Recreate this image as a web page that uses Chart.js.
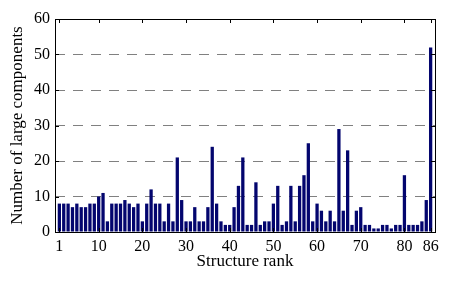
<!DOCTYPE html>
<html>
<head>
<meta charset="utf-8">
<script src="https://cdn.jsdelivr.net/npm/chart.js@4.4.1/dist/chart.umd.min.js"></script>
<style>
  html, body { margin: 0; padding: 0; background: #fff; }
  canvas { display: block; }
</style>
</head>
<body>
<canvas id="rankChart" width="458" height="285"></canvas>
<script>
    // Structure ranks 1..86 and the number of large components for each
    const ranks = Array.from({ length: 86 }, (_, i) => i + 1);
    const components = [
        8, 8, 8, 7, 8, 7, 7, 8, 8, 10,
        11, 3, 8, 8, 8, 9, 8, 7, 8, 3,
        8, 12, 8, 8, 3, 8, 3, 21, 9, 3,
        3, 7, 3, 3, 7, 24, 8, 3, 2, 2,
        7, 13, 21, 2, 2, 14, 2, 3, 3, 8,
        13, 2, 3, 13, 3, 13, 16, 25, 3, 8,
        6, 3, 6, 3, 29, 6, 23, 2, 6, 7,
        2, 2, 1, 1, 2, 2, 1, 2, 2, 16,
        2, 2, 2, 3, 9, 52
    ];
    const xTicks = [1, 10, 20, 30, 40, 50, 60, 70, 80, 86];
    const yTicks = [0, 10, 20, 30, 40, 50, 60];

    const serif = 'Liberation Serif, Times New Roman, serif';

    // box frame with inward tick marks (matlab style)
    const framePlugin = {
        id: 'frame',
        afterDraw(chart) {
            const { ctx, chartArea: a, scales } = chart;
            ctx.save();
            ctx.strokeStyle = '#000';
            ctx.lineWidth = 1;
            ctx.beginPath();
            xTicks.forEach(v => {
                const x = Math.round(scales.x.getPixelForValue(v)) + 0.5;
                ctx.moveTo(x, a.top); ctx.lineTo(x, a.top + 4);
                ctx.moveTo(x, a.bottom); ctx.lineTo(x, a.bottom - 4);
            });
            yTicks.forEach(v => {
                const y = Math.round(scales.y.getPixelForValue(v)) + 0.5;
                ctx.moveTo(a.left, y); ctx.lineTo(a.left + 4, y);
                ctx.moveTo(a.right, y); ctx.lineTo(a.right - 4, y);
            });
            ctx.stroke();
            ctx.strokeRect(Math.round(a.left) + 0.5, Math.round(a.top) + 0.5,
                Math.round(a.right - a.left), Math.round(a.bottom - a.top));
            ctx.restore();
        }
    };

    const ctx = document.getElementById('rankChart').getContext('2d');
    const chart = new Chart(ctx, {
        type: 'bar',
        data: {
            datasets: [{
                label: 'Large components',
                data: ranks.map((r, i) => ({ x: r, y: components[i] })),
                backgroundColor: '#03056e',
                borderWidth: 0,
                barPercentage: 0.75,
                categoryPercentage: 1
            }]
        },
        options: {
            responsive: false,
            animation: false,
            devicePixelRatio: 1,
            layout: { padding: { top: 19, right: 23, left: 0, bottom: 0 } },
            plugins: {
                legend: { display: false },
                tooltip: { enabled: false }
            },
            scales: {
                x: {
                    type: 'linear',
                    min: 0,
                    max: 87,
                    offset: false,
                    afterBuildTicks: scale => { scale.ticks = xTicks.map(v => ({ value: v })); },
                    afterFit: scale => { scale.height = 53; },
                    grid: { display: false, drawTicks: false, offset: false },
                    border: { display: false },
                    ticks: {
                        color: '#000',
                        padding: 5,
                        maxRotation: 0,
                        autoSkip: false,
                        font: { family: serif, size: 16 }
                    },
                    title: {
                        display: true,
                        text: 'Structure rank',
                        color: '#000',
                        font: { family: serif, size: 17 },
                        padding: { top: 0, bottom: 13 }
                    }
                },
                y: {
                    min: 0,
                    max: 60,
                    afterBuildTicks: scale => { scale.ticks = yTicks.map(v => ({ value: v })); },
                    afterFit: scale => { scale.width = 55; },
                    grid: {
                        drawTicks: false,
                        color: c => (c.tick.value === 0 || c.tick.value === 60) ? 'rgba(0,0,0,0)' : '#808080'
                    },
                    border: { display: false, dash: [10, 8] },
                    ticks: {
                        color: '#000',
                        padding: 5,
                        font: { family: serif, size: 16 }
                    },
                    title: {
                        display: true,
                        text: 'Number of large components',
                        color: '#000',
                        font: { family: serif, size: 17 },
                        padding: { top: 7, bottom: 0 }
                    }
                }
            }
        },
        plugins: [framePlugin]
    });
</script>
</body>
</html>
